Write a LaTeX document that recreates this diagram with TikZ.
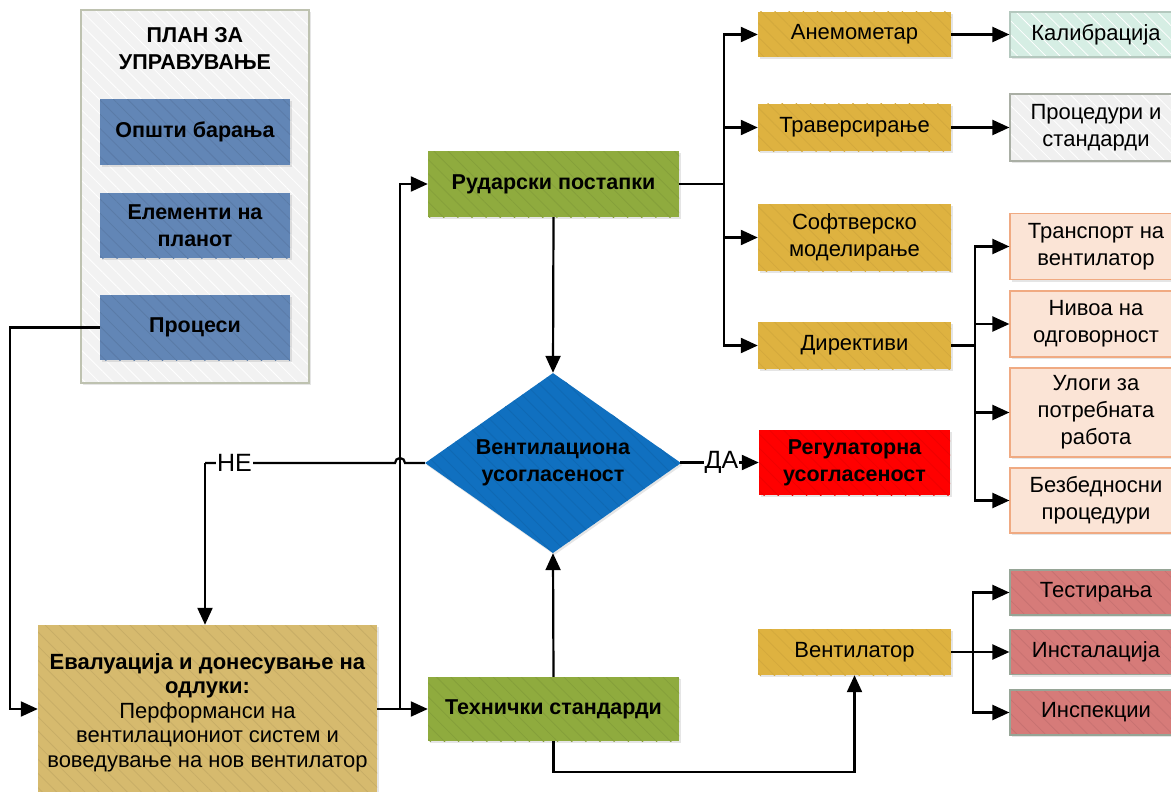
\documentclass[tikz,border=0pt]{standalone}
\usepackage{fontspec}
\setmainfont{Liberation Sans}
\usetikzlibrary{shapes.geometric,arrows.meta,patterns.meta,shadows,calc}
\definecolor{panelfill}{RGB}{242,242,242}
\definecolor{panelbd}{RGB}{190,194,176}
\definecolor{bluebox}{RGB}{98,134,182}
\definecolor{evalfill}{RGB}{214,186,110}
\definecolor{greenbox}{RGB}{143,171,62}
\definecolor{goldbox}{RGB}{222,178,64}
\definecolor{diablue}{RGB}{16,112,192}
\definecolor{regred}{RGB}{255,0,0}
\definecolor{mint}{RGB}{214,238,228}
\definecolor{mintbd}{RGB}{180,200,190}
\definecolor{lgray}{RGB}{240,240,240}
\definecolor{lgraybd}{RGB}{170,175,165}
\definecolor{peach}{RGB}{251,228,214}
\definecolor{peachbd}{RGB}{240,170,130}
\definecolor{pinkred}{RGB}{214,123,121}
\definecolor{pinkbd}{RGB}{150,165,150}
\begin{document}
\begin{tikzpicture}[x=1pt,y=-1pt,
  hatch/.style={postaction={pattern={Lines[angle=-45,distance=10pt,line width=0.8pt]},pattern color=#1}},
  redraw/.style={postaction={draw=#1,line width=1.2pt}},
  shade/.style={drop shadow={shadow xshift=1.5pt,shadow yshift=-2pt,opacity=0.2}},
  boxbase/.style={rectangle,inner sep=2pt,align=center,text=black,shade},
  regfont/.style={font=\fontsize{22}{27}\selectfont},
  boldfont/.style={font=\fontsize{21.5}{27}\selectfont\bfseries},
  conn/.style={line width=2.2pt,-{Triangle[length=17pt,width=15pt]}},
  wire/.style={line width=2.2pt},
  bluestyle/.style={boxbase,boldfont,fill=bluebox,hatch=bluebox!92!black,minimum width=190,minimum height=65},
  greenstyle/.style={boxbase,boldfont,fill=greenbox,hatch=greenbox!93!black,minimum width=251},
  goldstyle/.style={boxbase,regfont,fill=goldbox,hatch=goldbox!95!black,minimum width=193},
  rightbox/.style={boxbase,regfont,minimum width=172,line width=1.2pt},
  lbl/.style={fill=white,inner sep=1pt,font=\fontsize{25}{30}\selectfont},
]
\useasboundingbox (0,0) rectangle (1171,792);
\fill[white] (0,0) rectangle (1171,792);

% left panel
\node[rectangle,minimum width=228,minimum height=373,fill=panelfill,hatch=white,redraw=panelbd,shade] (plan) at (195,196.5) {};
\node[boldfont,align=center] (title) at (195,48.5) {ПЛАН ЗА\\УПРАВУВАЊЕ};
\node[bluestyle] (ob) at (195,132) {Општи барања};
\node[bluestyle] (ep) at (195,225.5) {Елементи на\\планот};
\node[bluestyle] (pr) at (195,327.5) {Процеси};

% evaluation box
\node[boxbase,font=\fontsize{22}{24.5}\selectfont,fill=evalfill,hatch=evalfill!93!black,minimum width=339,minimum height=175] (ev) at (207.5,712.5)
 {\textbf{Евалуација и донесување на}\\\textbf{одлуки:}\\Перформанси на\\вентилациониот систем и\\воведување на нов вентилатор};

% central column
\node[greenstyle,minimum height=66] (rp) at (553.5,184) {Рударски постапки};
\node[greenstyle,minimum height=64] (ts) at (553.5,709) {Технички стандарди};
\node[diamond,aspect=1.42,inner sep=0pt,minimum width=256,minimum height=180,fill=diablue,hatch=diablue!93!black,boldfont,align=center,shade] (dia) at (553,463) {Вентилациона\\усогласеност};
\node[boxbase,boldfont,fill=regred,hatch=regred!94!black,minimum width=191,minimum height=65] (reg) at (854.5,462.5) {Регулаторна\\усогласеност};

% gold column
\node[goldstyle,minimum height=45] (an) at (854.5,34.5) {Анемометар};
\node[goldstyle,minimum height=47] (tr) at (854.5,127.5) {Траверсирање};
\node[goldstyle,minimum height=67] (sm) at (854.5,237.5) {Софтверско\\моделирање};
\node[goldstyle,minimum height=47] (di) at (854.5,345.5) {Директиви};
\node[goldstyle,minimum height=46] (ve) at (854.5,652) {Вентилатор};

% right column
\node[rightbox,fill=mint,hatch=white,redraw=mintbd,minimum height=45] (ka) at (1096,34.5) {Калибрација};
\node[rightbox,fill=lgray,hatch=white,redraw=lgraybd,minimum height=67] (ps) at (1096,127.5) {Процедури и\\стандарди};
\node[rightbox,fill=peach,draw=peachbd,minimum height=66] (tv) at (1096,246.5) {Транспорт на\\вентилатор};
\node[rightbox,fill=peach,draw=peachbd,minimum height=66] (ni) at (1096,324) {Нивоа на\\одговорност};
\node[rightbox,fill=peach,draw=peachbd,minimum height=89] (ul) at (1096,412.5) {Улоги за\\потребната\\работа};
\node[rightbox,fill=peach,draw=peachbd,minimum height=65] (bp) at (1096,500.5) {Безбедносни\\процедури};
\node[rightbox,fill=pinkred,hatch=pinkred!93!black,redraw=pinkbd,minimum height=45] (test) at (1096,592.5) {Тестирања};
\node[rightbox,fill=pinkred,hatch=pinkred!93!black,redraw=pinkbd,minimum height=45] (inst) at (1096,652) {Инсталација};
\node[rightbox,fill=pinkred,hatch=pinkred!93!black,redraw=pinkbd,minimum height=45] (insp) at (1096,712.5) {Инспекции};

% connectors
\draw[conn] (pr.west) -- ++(-90,0) |- (ev.west |- ts.west);
\draw[conn] (ts.west -| ev.east) -- (ts.west);
\coordinate (j1) at (400,709);
\draw[conn] (j1) |- (rp.west);
\coordinate (jne) at (205,463);
\draw[wire] (dia.west) -- (405,463) arc[start angle=0,end angle=180,radius=5pt] -- (jne);
\draw[conn] (jne) -- (jne |- ev.north);
\node[lbl] (ne) at (234.5,463) {НЕ};
\draw[conn] (rp.south) -- (dia.north);
\draw[conn] (ts.north) -- (dia.south);
\draw[conn] (dia.east) -- (reg.west -| dia.east) -- (reg.west);
\node[lbl] (da) at (721.5,462.5) {ДА};
\draw[conn] (ts.south) -- ++(0,31) -| (ve.south);

\coordinate (j2) at (724,184);
\draw[wire] (rp.east) -- (j2);
\foreach \n in {an,tr,sm,di} \draw[conn] (j2) |- (\n.west);
\draw[conn] (an.east) -- (ka.west);
\draw[conn] (tr.east) -- (ps.west);

\coordinate (j3) at (975,345.5);
\draw[wire] (di.east) -- (j3);
\foreach \n in {tv,ni,ul,bp} \draw[conn] (j3) |- (\n.west);

\coordinate (j4) at (973,652);
\draw[wire] (ve.east) -- (j4);
\foreach \n in {test,inst,insp} \draw[conn] (j4) |- (\n.west);
\end{tikzpicture}
\end{document}
